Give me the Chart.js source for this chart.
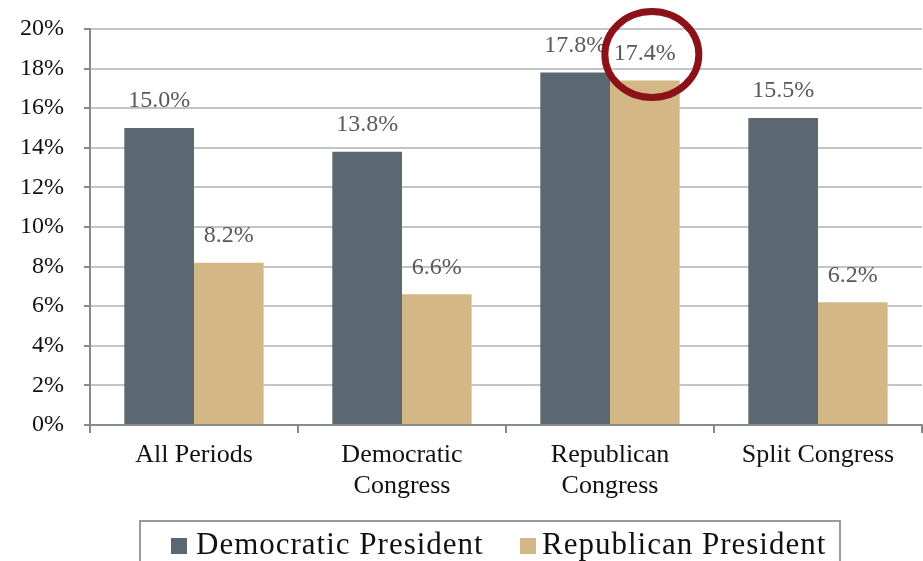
<!DOCTYPE html>
<html><head><meta charset="utf-8">
<script src="https://cdn.jsdelivr.net/npm/chart.js@4/dist/chart.umd.min.js"></script>
<style>html,body{margin:0;padding:0;background:#fff}#wrap{width:923px;height:561px}</style>
</head><body><div id="wrap"><canvas id="c" width="923" height="561"></canvas></div>
<script>
const categories = [["All Periods"], ["Democratic", "Congress"], ["Republican", "Congress"], ["Split Congress"]];
const democraticPresident = [15.0, 13.8, 17.8, 15.5];
const republicanPresident = [8.2, 6.6, 17.4, 6.2];
const seriesNames = ["Democratic President", "Republican President"];
const seriesColors = ["#5b6872", "#d3b886"];
const yTicks = [0, 2, 4, 6, 8, 10, 12, 14, 16, 18, 20];

const FONT = "'Liberation Serif', 'DejaVu Serif', serif";

const labelPlugin = {
  id: 'labels',
  afterDatasetsDraw(chart) {
    const ctx = chart.ctx;
    ctx.save();
    ctx.font = "24px " + FONT;
    ctx.fillStyle = '#595959';
    ctx.textAlign = 'center';
    ctx.textBaseline = 'middle';
    chart.data.datasets.forEach((ds, di) => {
      chart.getDatasetMeta(di).data.forEach((bar, i) => {
        ctx.fillText(ds.data[i].toFixed(1) + '%', bar.x, bar.y - 27);
      });
    });
    // highlight ring around Republican Congress / Republican President label
    const hb = chart.getDatasetMeta(1).data[2];
    ctx.beginPath();
    ctx.strokeStyle = '#8b1219';
    ctx.lineWidth = 7;
    ctx.ellipse(hb.x + 7, hb.y - 26, 47, 43, 0, 0, Math.PI * 2);
    ctx.stroke();
    ctx.restore();
  },
  afterDraw(chart) {
    // legend with border box
    const ctx = chart.ctx;
    ctx.save();
    const top = chart.chartArea.bottom + 95;
    ctx.strokeStyle = '#9a9a9a';
    ctx.lineWidth = 2;
    ctx.strokeRect(140, top + 1, 700, chart.height);
    ctx.font = "31px " + FONT;
    ctx.letterSpacing = '1px';
    ctx.textBaseline = 'middle';
    ctx.textAlign = 'left';
    const cy = top + 26;
    const boxX = [171, 520];
    const textX = [196, 542];
    seriesNames.forEach((name, i) => {
      ctx.fillStyle = seriesColors[i];
      ctx.fillRect(boxX[i], cy - 8, 16, 16);
      ctx.fillStyle = '#111';
      ctx.fillText(name, textX[i], cy);
    });
    ctx.restore();
  }
};

new Chart(document.getElementById('c'), {
  type: 'bar',
  data: {
    labels: categories,
    datasets: [
      { label: seriesNames[0], data: democraticPresident, backgroundColor: seriesColors[0], categoryPercentage: 0.67, barPercentage: 1.0 },
      { label: seriesNames[1], data: republicanPresident, backgroundColor: seriesColors[1], categoryPercentage: 0.67, barPercentage: 1.0 }
    ]
  },
  options: {
    responsive: false,
    animation: false,
    layout: { padding: { top: 29, right: 1, left: 0, bottom: 41 } },
    plugins: {
      legend: { display: false },
      tooltip: { enabled: false }
    },
    scales: {
      x: {
        offset: true,
        grid: { display: true, drawOnChartArea: false, offset: true, tickLength: 8, color: '#858c87', lineWidth: 2 },
        border: { color: '#858c87', width: 2 },
        ticks: { font: { family: FONT, size: 26, lineHeight: 1.22 }, color: '#111', padding: 6 },
        afterFit(s) { s.height = 95; }
      },
      y: {
        min: 0, max: 20,
        afterBuildTicks(s) { s.ticks = yTicks.map(v => ({ value: v })); },
        grid: { color: '#c4c4c4', lineWidth: 2, tickLength: 6, drawTicks: true, tickColor: '#858c87' },
        border: { color: '#858c87', width: 2 },
        ticks: { font: { family: FONT, size: 24, lineHeight: 1.0 }, color: '#111', padding: 20, callback: v => v + '%' },
        afterFit(s) { s.width = 90; s.paddingTop = 0; }
      }
    }
  },
  plugins: [labelPlugin]
});
</script>
</body></html>
